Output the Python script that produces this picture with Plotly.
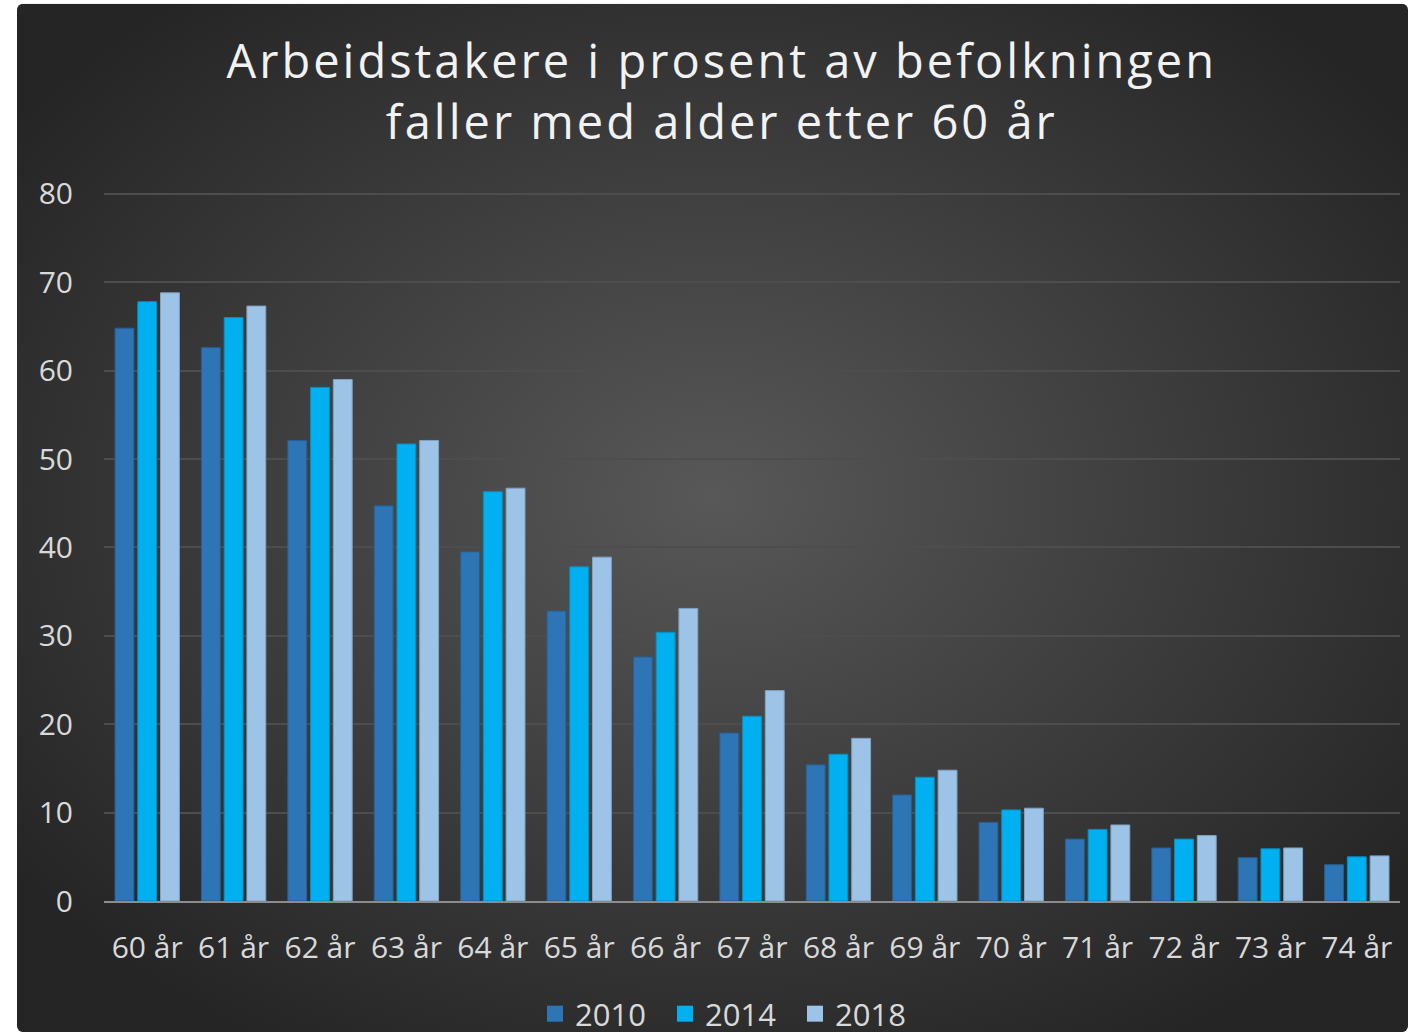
import base64
import plotly.graph_objects as go

categories = ["60 år", "61 år", "62 år", "63 år", "64 år", "65 år", "66 år", "67 år",
              "68 år", "69 år", "70 år", "71 år", "72 år", "73 år", "74 år"]
v2010 = [64.8, 62.6, 52.1, 44.7, 39.5, 32.8, 27.6, 19.0, 15.4, 12.0, 8.9, 7.0, 6.0, 4.9, 4.1]
v2014 = [67.8, 66.0, 58.1, 51.7, 46.3, 37.8, 30.4, 20.9, 16.6, 14.0, 10.3, 8.1, 7.0, 5.9, 5.0]
v2018 = [68.8, 67.3, 59.0, 52.1, 46.7, 38.9, 33.1, 23.8, 18.4, 14.8, 10.5, 8.6, 7.4, 6.0, 5.1]
y_ticks = [0, 10, 20, 30, 40, 50, 60, 70, 80]
series_names = ["2010", "2014", "2018"]
colors = ["#2E75B6", "#00B0F0", "#9DC3E6"]
edge_colors = ["#255f94", "#0090c4", "#7fa3c4"]
title_text = "Arbeidstakere i prosent av befolkningen<br>faller med alder etter 60 år"

svg = (
    '<svg xmlns="http://www.w3.org/2000/svg" width="1391" height="1028" '
    'viewBox="0 0 1391 1028" preserveAspectRatio="none">'
    '<defs><radialGradient id="g" cx="50%" cy="48%" r="62%">'
    '<stop offset="0%" stop-color="#585858"/>'
    '<stop offset="100%" stop-color="#252525"/>'
    '</radialGradient></defs>'
    '<rect x="0" y="0" width="1391" height="1028" rx="6" ry="6" fill="url(#g)"/>'
    '</svg>'
)
bg_src = "data:image/svg+xml;base64," + base64.b64encode(svg.encode()).decode()

W, H = 1408, 1032
Y_MAX = 81
px_per_unit = (901 - 194) / 80
L, R, B = 104, 8, 131
T = 194 - (Y_MAX - 80) * px_per_unit
PW, PH = W - L - R, H - T - B

fig = go.Figure()
for name, vals, col, ec in zip(series_names, [v2010, v2014, v2018], colors, edge_colors):
    fig.add_trace(go.Bar(
        x=categories, y=vals, name=name, showlegend=False,
        marker=dict(color=col, line=dict(color=ec, width=1)),
    ))
for name, col in zip(series_names, colors):
    fig.add_trace(go.Scatter(
        x=[categories[0]], y=[None], name=name, mode="markers",
        marker=dict(symbol="square", size=20, color=col),
    ))

fig.update_layout(
    width=W, height=H,
    paper_bgcolor="white",
    plot_bgcolor="rgba(0,0,0,0)",
    barmode="group",
    bargap=0.21,
    bargroupgap=0.17,
    margin=dict(l=L, r=R, t=T, b=B, autoexpand=False),
    font=dict(family="Open Sans", color="#d9d9d9"),
    images=[dict(
        source=bg_src, xref="paper", yref="paper",
        x=-(L - 17) / PW, y=1 + (T - 4) / PH,
        sizex=(W - 17) / PW, sizey=(H - 4) / PH,
        xanchor="left", yanchor="top", sizing="stretch", layer="below",
    )],
    annotations=[dict(
        text=title_text, xref="paper", yref="paper",
        x=(722 - L) / PW, y=1 + (T - 91) / PH,
        xanchor="center", yanchor="middle", showarrow=False,
        font=dict(family="Open Sans", size=47, color="#f2f2f2"),
    )],
    legend=dict(
        orientation="h", x=(730 - L) / PW, xanchor="center",
        y=-(1014 - (H - B)) / PH, yanchor="middle",
        font=dict(size=31, color="#d9d9d9"),
        bgcolor="rgba(0,0,0,0)", itemwidth=30, tracegroupgap=0,
        entrywidth=85, entrywidthmode="pixels",
    ),
    xaxis=dict(
        range=[-0.5, len(categories) - 0.5],
        showgrid=False, showline=True, linecolor="#8c8c8c", linewidth=2,
        tickfont=dict(size=30, color="#d9d9d9"), ticks="", ticklabelstandoff=19,
    ),
    yaxis=dict(
        range=[0, Y_MAX], tickvals=y_ticks,
        showgrid=True, gridcolor="#4d4d4d", gridwidth=1.5,
        zeroline=False, showline=False, ticks="",
        tickfont=dict(size=30, color="#d9d9d9"), ticklabelstandoff=30,
    ),
)

post = """
document.body.style.margin='0';
document.querySelectorAll('.annotation-text').forEach(function(e){e.style.letterSpacing='3.0px';});
"""
fig.write_html("out.html", post_script=post, config={"displayModeBar": False})
